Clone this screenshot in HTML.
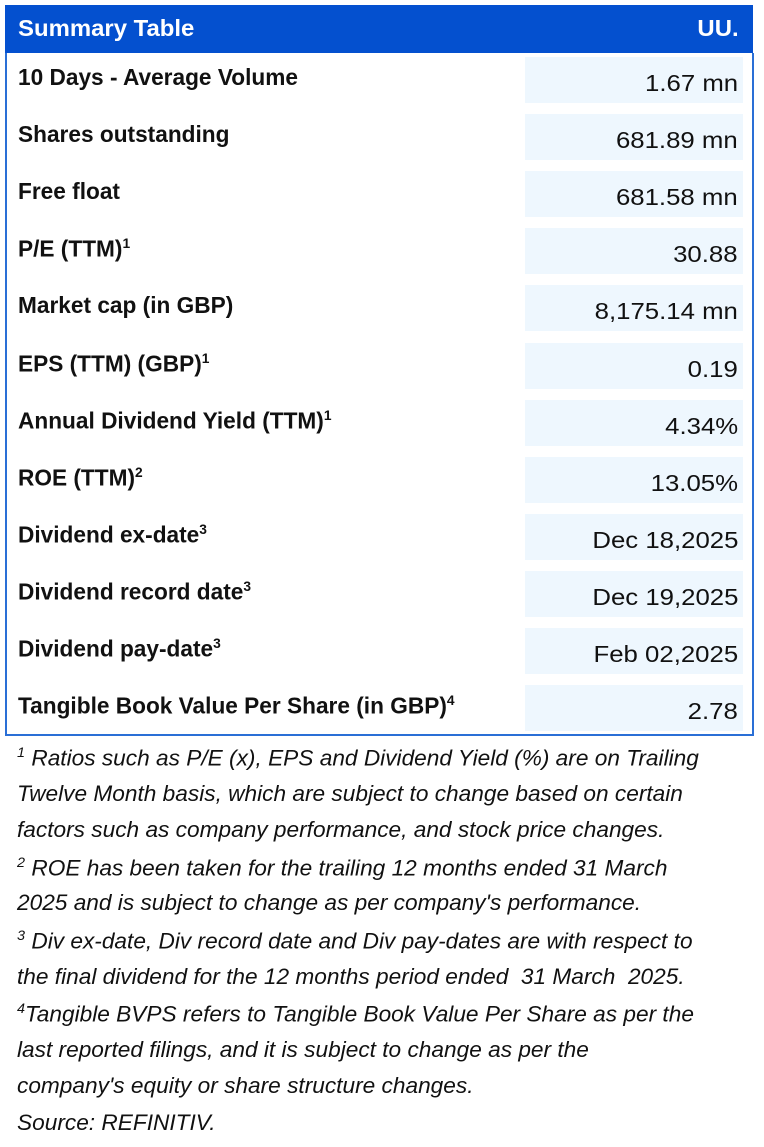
<!DOCTYPE html>
<html><head><meta charset="utf-8"><style>
body{margin:0;width:764px;height:1147px;background:#fff;position:relative;overflow:hidden;font-family:"Liberation Sans",sans-serif;}
.hdr{position:absolute;left:5px;top:5px;width:748px;height:48px;background:#0450cf;}
.hdr span{position:absolute;top:10px;color:#fff;font-weight:bold;font-size:23px;transform-origin:left top;transform:scaleX(1.04);white-space:nowrap}
.frame{position:absolute;left:5px;top:53px;width:745px;height:681px;border:2px solid #2a6fd6;border-top:none;}
.lab{position:absolute;left:18px;font-weight:bold;font-size:23px;color:#111;transform-origin:left top;transform:scaleX(0.985);white-space:nowrap}
.lab sup,.note sup{font-size:14px}
.cell{position:absolute;left:525px;width:218px;height:46px;background:#eef7fe;}
.val{position:absolute;font-size:23px;color:#111;transform-origin:right top;transform:scaleX(1.12);white-space:nowrap}
.note{position:absolute;left:17px;font-style:italic;font-size:22px;color:#111;white-space:nowrap;transform-origin:left top;transform:scaleX(1.03)}
</style></head><body>
<div class="hdr"><span style="left:13px">Summary Table</span><span style="right:14px;transform-origin:right top">UU.</span></div>
<div class="frame"></div>
<div id="rows"></div>
<div id="notes"></div>
<script>
const labels=["10 Days - Average Volume","Shares outstanding","Free float","P/E (TTM)<sup>1</sup>","Market cap (in GBP)","EPS (TTM) (GBP)<sup>1</sup>","Annual Dividend Yield (TTM)<sup>1</sup>","ROE (TTM)<sup>2</sup>","Dividend ex-date<sup>3</sup>","Dividend record date<sup>3</sup>","Dividend pay-date<sup>3</sup>","Tangible Book Value Per Share (in GBP)<sup>4</sup>"];
const values=["1.67 mn","681.89 mn","681.58 mn","30.88","8,175.14 mn","0.19","4.34%","13.05%","Dec 18,2025","Dec 19,2025","Feb 02,2025","2.78"];
const notes=["<sup>1</sup> Ratios such as P/E (x), EPS and Dividend Yield (%) are on Trailing","Twelve Month basis, which are subject to change based on certain","factors such as company performance, and stock price changes.","<sup>2</sup> ROE has been taken for the trailing 12 months ended 31 March","2025 and is subject to change as per company's performance.","<sup>3</sup> Div ex-date, Div record date and Div pay-dates are with respect to","the final dividend for the 12 months period ended&nbsp; 31 March&nbsp; 2025.","<sup>4</sup>Tangible BVPS refers to Tangible Book Value Per Share as per the","last reported filings, and it is subject to change as per the","company's equity or share structure changes.","Source: REFINITIV."];
const R=document.getElementById('rows');
labels.forEach((l,i)=>{
 const y=57+i*57.1;
 const c=document.createElement('div');c.className='cell';c.style.top=y+'px';
 
 
 R.appendChild(c);
 const a=document.createElement('div');a.className='lab';a.style.top=(y+7)+'px';a.innerHTML=l;
 
 
 R.appendChild(a);
 const v=document.createElement('div');v.className='val';v.style.top=(y+13)+'px';v.style.right='26px';v.textContent=values[i];
 
 
 R.appendChild(v);
});
const N=document.getElementById('notes');
notes.forEach((t,i)=>{
 const d=document.createElement('div');d.className='note';d.style.top=(744+i*36.6)+'px';d.innerHTML=t;
 
 
 N.appendChild(d);
});
</script>
</body></html>
